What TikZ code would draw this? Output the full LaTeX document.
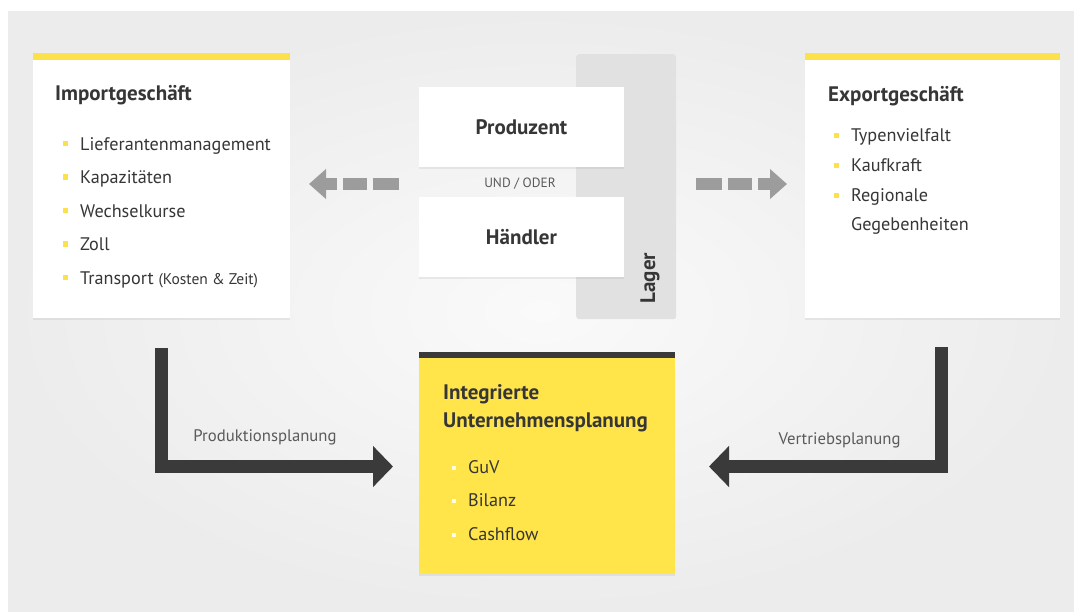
\documentclass[tikz,border=0pt]{standalone}
\usepackage{fontspec}
\setmainfont{PT Sans}
\usetikzlibrary{arrows.meta,shadows,calc}

\definecolor{panelout}{HTML}{ECECEC}
\definecolor{panelin}{HTML}{FAFAFA}
\definecolor{baryellow}{HTML}{FCE14B}
\definecolor{boxyellow}{HTML}{FFE54A}
\definecolor{darkbar}{HTML}{3A3A3A}
\definecolor{ink}{HTML}{363636}
\definecolor{labelgray}{HTML}{5A5A5A}
\definecolor{dashgray}{HTML}{9C9C9C}
\definecolor{lagergray}{HTML}{E1E1E1}

\begin{document}
\begin{tikzpicture}[x=1pt,y=-1pt,
  card/.style={fill=white, inner sep=0pt, outer sep=0pt, anchor=north west,
    drop shadow={shadow xshift=0pt, shadow yshift=-1.5pt, opacity=0.13}},
  headfont/.style={font=\bfseries\fontsize{21}{24}\selectfont, text=ink},
  itemfont/.style={font=\fontsize{18.2}{21}\selectfont, text=ink},
  item/.style={itemfont, anchor=base west, inner sep=0pt},
  heading/.style={headfont, anchor=base west, inner sep=0pt},
  planlabel/.style={font=\fontsize{16.7}{19}\selectfont, text=labelgray, inner sep=0pt},
  planarrow/.style={draw=darkbar, line width=13pt,
    -{Triangle[length=20pt, width=40pt]}},
  flowarrow/.style={draw=dashgray, line width=12pt,
    dash pattern=on 26pt off 6pt on 24pt off 6pt on 200pt off 1pt,
    -{Triangle[length=17pt, width=29pt]}}
]
\useasboundingbox (0,0) rectangle (1074,611);
\fill[white] (0,0) rectangle (1074,611);
\shade[inner color=panelin, outer color=panelout] (8,11) rectangle (1074,611);

% storage strip behind the two actors
\node[fill=lagergray, rounded corners=3pt, inner sep=0pt, anchor=north west,
  minimum width=100pt, minimum height=265pt] (lager) at (576,54) {};
\node[headfont, rotate=90, inner sep=0pt] (lagertxt) at (650,278) {Lager};

% producer / trader
\node[card, headfont, minimum width=205pt, minimum height=80pt] (prod) at (419,87) {Produzent};
\node[card, headfont, minimum width=205pt, minimum height=80pt] (haendler) at (419,197) {Händler};
\node[font=\fontsize{13.4}{15}\selectfont, text=labelgray, inner sep=0pt] (und) at (520,184) {UND / ODER};

% import card
\node[card, minimum width=257pt, minimum height=265pt] (imp) at (33,53) {};
\fill[baryellow] (imp.north west) rectangle ($(imp.north east)+(0,7)$);
\node[heading] (imphead) at (55,100) {Importgeschäft};
\foreach \txt [count=\i] in {Lieferantenmanagement, Kapazitäten, Wechselkurse, Zoll} {
  \pgfmathsetmacro{\yy}{150+(\i-1)*33.5}
  \fill[baryellow] (62.7,\yy-9.3) rectangle (68.1,\yy-3.9);
  \node[item] (impitem\i) at (80,\yy) {\txt};
}
\fill[baryellow] (62.7,284-9.3) rectangle (68.1,284-3.9);
\node[item] (impitem5) at (80,284) {Transport {\fontsize{15.5}{17}\selectfont(Kosten \& Zeit)}};

% export card
\node[card, minimum width=255pt, minimum height=265pt] (exp) at (805,53) {};
\fill[baryellow] (exp.north west) rectangle ($(exp.north east)+(0,7)$);
\node[heading] (exphead) at (828,101) {Exportgeschäft};
\foreach \txt [count=\i] in {Typenvielfalt, Kaufkraft, Regionale} {
  \pgfmathsetmacro{\yy}{141.7+(\i-1)*30}
  \fill[baryellow] (833.5,\yy-8.9) rectangle (838.5,\yy-3.9);
  \node[item] (expitem\i) at (851,\yy) {\txt};
}
\node[item] (expitem4) at (851,230.5) {Gegebenheiten};

% integrated planning card
\node[card, fill=boxyellow, minimum width=256pt, minimum height=222pt] (cen) at (419,352) {};
\fill[darkbar] (cen.north west) rectangle ($(cen.north east)+(0,6)$);
\node[heading] (cenhead1) at (443,399.5) {Integrierte};
\node[heading] (cenhead2) at (443,427.5) {Unternehmensplanung};
\foreach \txt/\yy [count=\i] in {GuV/473.5, Bilanz/506.8, Cashflow/540} {
  \fill[white!85!boxyellow] (451.5,\yy-7.5) rectangle (455.5,\yy-3.5);
  \node[item] (cenitem\i) at (468,\yy) {\txt};
}

% flows between trade and actors
\draw[flowarrow, shorten <=20pt, shorten >=19pt] (und -| prod.west) -- (und -| imp.east);
\draw[flowarrow, shorten <=20pt, shorten >=18pt] (und -| lager.east) -- (und -| exp.west);

% planning flows into the integrated plan
\draw[planarrow, shorten <=30pt, shorten >=26pt] (imp.south) |- ([yshift=-3.5pt]cen.west);
\draw[planarrow, shorten <=29pt, shorten >=34pt] ([xshift=9pt]exp.south) |- ([yshift=-3.5pt]cen.east);
\node[planlabel] (prodplan) at (265,437) {Produktionsplanung};
\node[planlabel] (vertplan) at (839.5,440) {Vertriebsplanung};
\end{tikzpicture}
\end{document}
